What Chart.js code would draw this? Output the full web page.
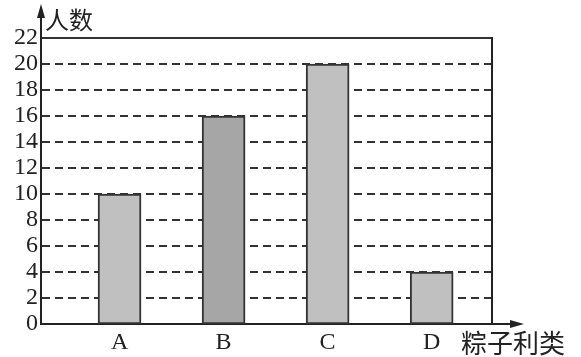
<!DOCTYPE html>
<html><head><meta charset="utf-8">
<script src="https://cdn.jsdelivr.net/npm/chart.js@4"></script>
<style>html,body{margin:0;padding:0;background:#fff}#wrap{width:581px;height:357px}</style>
</head><body><div id="wrap"><canvas id="c"></canvas></div>
<script>
const categories = ['A', 'B', 'C', 'D'];
const counts = [10, 16, 20, 4];
const yTicks = [0, 2, 4, 6, 8, 10, 12, 14, 16, 18, 20, 22];
const yTitle = '人数';
const xTitle = '粽子利类';

const SERIF = '"Liberation Serif", "Times New Roman", serif';
const CJK = '"Noto Sans CJK SC", sans-serif';

const arrows = {
  id: 'arrows',
  afterDraw(chart) {
    const {ctx, chartArea: a} = chart;
    ctx.save();
    ctx.strokeStyle = '#222'; ctx.fillStyle = '#222'; ctx.lineWidth = 2;
    ctx.beginPath(); ctx.moveTo(a.left, a.top); ctx.lineTo(a.left, a.top - 24); ctx.stroke();
    ctx.beginPath(); ctx.moveTo(a.left, a.top - 34); ctx.lineTo(a.left - 4, a.top - 20); ctx.lineTo(a.left + 4, a.top - 20); ctx.closePath(); ctx.fill();
    ctx.beginPath(); ctx.moveTo(a.right, a.bottom); ctx.lineTo(a.right + 22, a.bottom); ctx.stroke();
    ctx.beginPath(); ctx.moveTo(a.right + 32, a.bottom); ctx.lineTo(a.right + 18, a.bottom - 4); ctx.lineTo(a.right + 18, a.bottom + 4); ctx.closePath(); ctx.fill();
    ctx.fillStyle = '#222';
    ctx.font = '24px ' + CJK; ctx.textBaseline = 'middle'; ctx.textAlign = 'left';
    ctx.fillText(yTitle, a.left + 4, a.top - 18);
    ctx.font = '26px ' + CJK;
    ctx.fillText(xTitle, a.right - 31, a.bottom + 19);
    ctx.restore();
  }
};

new Chart(document.getElementById('c'), {
  type: 'bar',
  data: {
    datasets: [{
      data: categories.map((c, i) => ({x: i + 1, y: counts[i]})),
      backgroundColor: ['#c0c0c0', '#a6a6a6', '#c0c0c0', '#c0c0c0'],
      borderColor: '#333',
      borderWidth: 2,
      borderSkipped: false,
      barThickness: 43
    }]
  },
  options: {
    responsive: true, maintainAspectRatio: false, animation: false,
    layout: {padding: {top: 38, right: 89, left: 0, bottom: 0}},
    plugins: {legend: {display: false}, tooltip: {enabled: false}},
    scales: {
      x: {
        type: 'linear', min: 0.245, max: 4.58, offset: false,
        afterBuildTicks: s => { s.ticks = categories.map((c, i) => ({value: i + 1})); },
        afterFit: s => { s.height = 33; },
        ticks: {
          callback: v => categories[v - 1] || '',
          color: '#222', font: {family: SERIF, size: 24}, padding: 4, maxRotation: 0, autoSkip: false
        },
        grid: {display: false, drawTicks: false},
        border: {display: true, color: '#222', width: 2}
      },
      y: {
        min: 0, max: 22,
        afterBuildTicks: s => { s.ticks = yTicks.map(v => ({value: v})); },
        afterFit: s => { s.width = 41; },
        ticks: {color: '#222', font: {family: SERIF, size: 24}, padding: 3, autoSkip: false},
        grid: {
          drawTicks: false,
          color: '#333',
          lineWidth: c => (c.tick && c.tick.value === 0) ? 0 : 2
        },
        border: {
          display: true, color: '#222', width: 2,
          dash: c => (c.tick && (c.tick.value === 22 || c.tick.value === 0)) ? [] : [8, 5]
        }
      },
      yr: {
        position: 'right', min: 0, max: 22,
        ticks: {display: false}, grid: {display: false, drawTicks: false},
        afterFit: s => { s.width = 0; },
        border: {display: true, color: '#222', width: 2}
      }
    }
  },
  plugins: [arrows]
});
</script></body></html>
